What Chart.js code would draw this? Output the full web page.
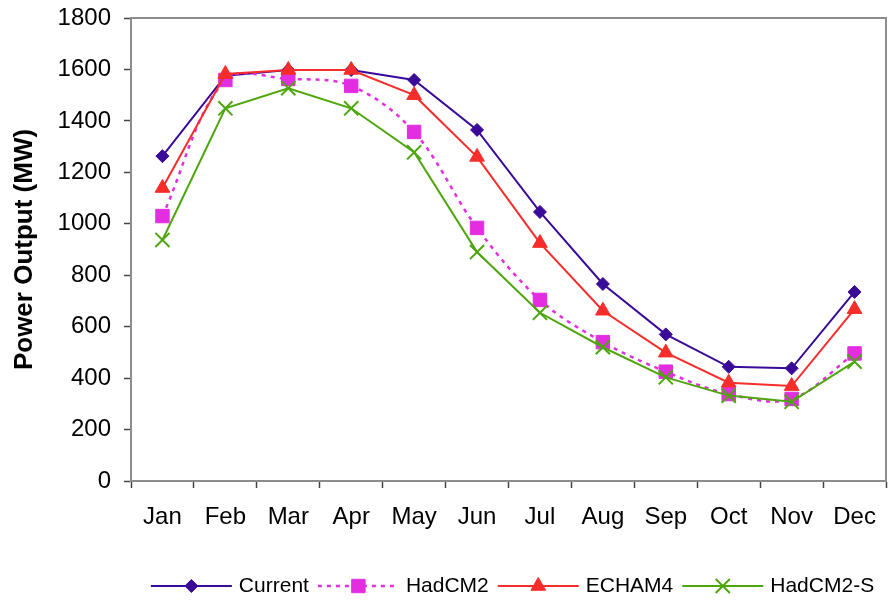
<!DOCTYPE html>
<html>
<head>
<meta charset="utf-8">
<script src="https://cdn.jsdelivr.net/npm/chart.js@4.4.0/dist/chart.umd.min.js"></script>
<style>
  html, body { margin: 0; padding: 0; background: #fff; }
  #wrap { width: 889px; height: 602px; }
</style>
</head>
<body>
<div id="wrap"><canvas id="chart" width="889" height="602"></canvas></div>
<script>
// Monthly power output (MW) for current climate and three scenarios
const months = ['Jan', 'Feb', 'Mar', 'Apr', 'May', 'Jun', 'Jul', 'Aug', 'Sep', 'Oct', 'Nov', 'Dec'];
const current = [1263, 1575, 1598, 1598, 1559, 1365, 1046, 766, 570, 444, 438, 735];
const hadcm2 = [1030, 1559, 1563, 1536, 1357, 984, 704, 540, 425, 338, 319, 496];
const echam4 = [1139, 1582, 1598, 1598, 1500, 1260, 925, 662, 499, 382, 369, 668];
const hadcm2s = [937, 1449, 1527, 1449, 1278, 890, 654, 520, 403, 332, 308, 464];
const yTicks = [0, 200, 400, 600, 800, 1000, 1200, 1400, 1600, 1800];

const FONT = "'Liberation Sans', Arial, sans-serif";
Chart.defaults.font.family = FONT;
Chart.defaults.color = '#000';

// Gray frame round the plot area (top and right sides show)
const framePlugin = {
    id: 'frame',
    beforeDatasetsDraw(chart) {
        const { ctx, chartArea: a } = chart;
        ctx.save();
        ctx.strokeStyle = '#8c8c8c';
        ctx.lineWidth = 2;
        ctx.strokeRect(a.left, a.top, a.right - a.left, a.bottom - a.top);
        ctx.restore();
    }
};

// Excel-style legend: line segment with marker in the middle, then label
const legendPlugin = {
    id: 'lineLegend',
    afterDraw(chart) {
        const { ctx, chartArea: a } = chart;
        const lineLen = 81, gapText = 7, gapItem = 9, y = 586;
        ctx.save();
        ctx.font = '21px ' + FONT;
        ctx.textBaseline = 'middle';
        const sets = chart.data.datasets;
        let total = 0;
        sets.forEach((ds, i) => {
            total += lineLen + gapText + ctx.measureText(ds.label).width;
            if (i < sets.length - 1) total += gapItem;
        });
        let x = (a.left + a.right) / 2 - total / 2 + 4;
        sets.forEach(ds => {
            ctx.strokeStyle = ds.borderColor;
            ctx.lineWidth = ds.borderWidth;
            ctx.setLineDash(ds.borderDash || []);
            ctx.beginPath();
            ctx.moveTo(x, y);
            ctx.lineTo(x + lineLen, y);
            ctx.stroke();
            ctx.setLineDash([]);
            ctx.fillStyle = ds.pointBackgroundColor;
            ctx.strokeStyle = ds.pointBorderColor;
            ctx.lineWidth = ds.pointBorderWidth;
            Chart.helpers.drawPoint(ctx, {
                pointStyle: ds.pointStyle,
                radius: ds.pointRadius,
                rotation: 0,
                borderWidth: ds.pointBorderWidth
            }, x + lineLen / 2, y);
            x += lineLen + gapText;
            ctx.fillStyle = '#000';
            ctx.fillText(ds.label, x, y);
            x += ctx.measureText(ds.label).width + gapItem;
        });
        ctx.restore();
    }
};

function series(label, data, color, style, radius, extra) {
    return Object.assign({
        label: label,
        data: data,
        borderColor: color,
        backgroundColor: color,
        borderWidth: 2,
        tension: 0,
        pointStyle: style,
        pointRadius: radius,
        pointHoverRadius: radius,
        pointBackgroundColor: color,
        pointBorderColor: color,
        pointBorderWidth: 1,
        fill: false
    }, extra || {});
}

new Chart(document.getElementById('chart'), {
    type: 'line',
    data: {
        labels: months,
        datasets: [
            series('Current', current, '#3a0a98', 'rectRot', 6.5, { order: 4 }),
            series('HadCM2', hadcm2, '#e22ee0', 'rect', 9.5, { order: 3, borderDash: [4, 5], borderWidth: 2.5, tension: 0.35 }),
            series('ECHAM4', echam4, '#f62d2a', 'triangle', 8.5, { order: 2 }),
            series('HadCM2-S', hadcm2s, '#4da60c', 'crossRot', 10, { order: 1, pointBorderWidth: 2 })
        ]
    },
    options: {
        responsive: false,
        animation: false,
        events: [],
        layout: { autoPadding: false, padding: { top: 18, right: 3, left: 0, bottom: 0 } },
        plugins: {
            legend: { display: false },
            tooltip: { enabled: false }
        },
        scales: {
            x: {
                offset: true,
                grid: {
                    offset: true,
                    drawOnChartArea: false,
                    drawTicks: true,
                    tickLength: 7,
                    tickColor: '#444',
                    tickWidth: 1.5
                },
                border: { color: '#222', width: 2 },
                ticks: { font: { size: 24 }, color: '#000', padding: 15, maxRotation: 0, autoSkip: false },
                afterFit(scale) {
                    scale.height = 121;
                    scale.paddingLeft = 0;
                    scale.paddingRight = 0;
                }
            },
            y: {
                min: 0,
                max: 1800,
                afterBuildTicks(scale) { scale.ticks = yTicks.map(v => ({ value: v })); },
                grid: {
                    drawOnChartArea: false,
                    drawTicks: true,
                    tickLength: 7,
                    tickColor: '#444',
                    tickWidth: 1.5
                },
                border: { color: '#222', width: 2 },
                ticks: { font: { size: 24 }, color: '#000', padding: 13, callback: v => String(v) },
                title: {
                    display: true,
                    text: 'Power Output (MW)',
                    font: { size: 26, weight: 'bold', lineHeight: 1.2 },
                    color: '#000',
                    padding: { top: 9, bottom: 0 }
                },
                afterFit(scale) {
                    scale.width = 131;
                    scale.paddingTop = 0;
                    scale.paddingBottom = 0;
                }
            }
        }
    },
    plugins: [framePlugin, legendPlugin]
});
</script>
</body>
</html>
